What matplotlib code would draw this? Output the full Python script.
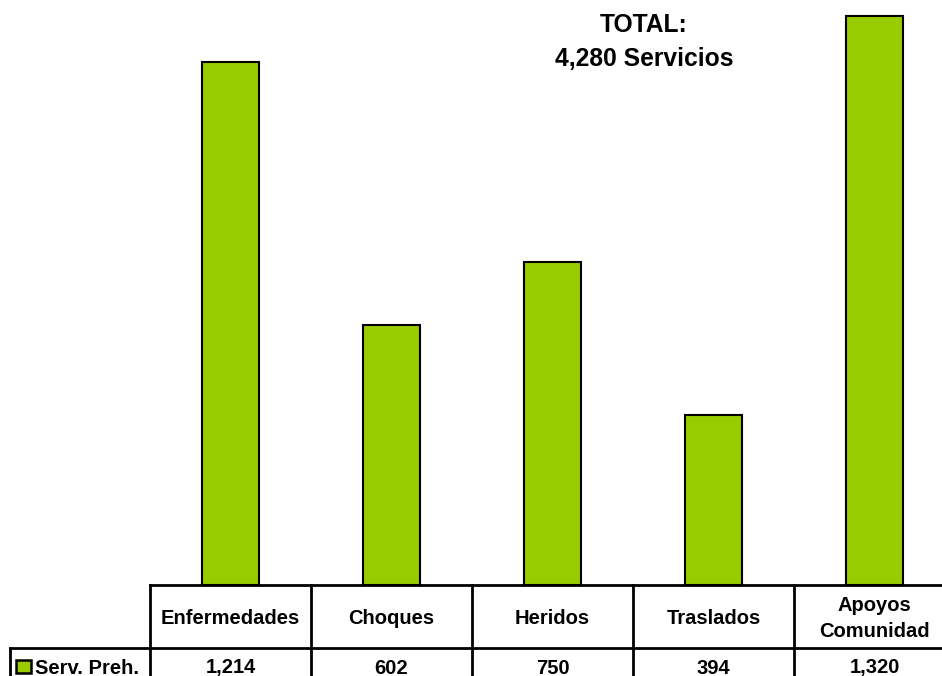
import matplotlib.pyplot as plt
from matplotlib.patches import Rectangle

# datos del grafico
categorias = ['Enfermedades', 'Choques', 'Heridos', 'Traslados', 'Apoyos\nComunidad']
servicios = [1214, 602, 750, 394, 1320]
serie = 'Serv. Preh.'
total = 4280

VERDE = '#99CC00'
W, H = 942, 676

plt.rcParams['font.family'] = ['Liberation Sans', 'DejaVu Sans']
plt.rcParams['font.weight'] = 'bold'

fig = plt.figure(figsize=(W / 100, H / 100), dpi=100)

# area de barras (se extiende un poco fuera de la figura a la derecha, como el original)
x0, x1, ybase = 150, 955, 585
ax = fig.add_axes([x0 / W, 1 - ybase / H, (x1 - x0) / W, ybase / H])
n = len(categorias)
ax.bar(range(n), servicios, width=0.355, color=VERDE, edgecolor='black', linewidth=1.5)
ax.set_xlim(-0.5, n - 0.5)
ax.set_ylim(0, 1357)
ax.axis('off')

# capa en pixeles para la tabla y el titulo
ov = fig.add_axes([0, 0, 1, 1])
ov.set_xlim(0, W)
ov.set_ylim(H, 0)
ov.axis('off')

col_w = (x1 - x0) / n
y_mid = 648
lw = 2
# lineas de la tabla
ov.plot([x0, x1], [ybase, ybase], color='black', lw=lw)
ov.plot([10, x1], [y_mid, y_mid], color='black', lw=lw)
ov.plot([10, 10], [y_mid, H + 5], color='black', lw=lw)
for i in range(n + 1):
    xx = x0 + i * col_w
    ov.plot([xx, xx], [ybase, H + 5], color='black', lw=lw)

for i, (cat, val) in enumerate(zip(categorias, servicios)):
    cx = x0 + (i + 0.5) * col_w
    ov.text(cx, (ybase + y_mid) / 2 + 2, cat, ha='center', va='center', fontsize=14.5,
            fontweight='bold', linespacing=1.5)
    ov.text(cx, 668, f'{val:,}', ha='center', va='center', fontsize=14.5, fontweight='bold')

# etiqueta de la serie con su marca
ov.add_patch(Rectangle((16, 660), 15, 13, facecolor=VERDE, edgecolor='black', lw=1.8))
ov.text(35, 669, serie, ha='left', va='center', fontsize=14.5, fontweight='bold')

# total
ov.text(644, 42, f'TOTAL:\n{total:,} Servicios', ha='center', va='center', fontsize=17.7,
        fontweight='bold', linespacing=1.5)

fig.savefig('out.png', dpi=100)
